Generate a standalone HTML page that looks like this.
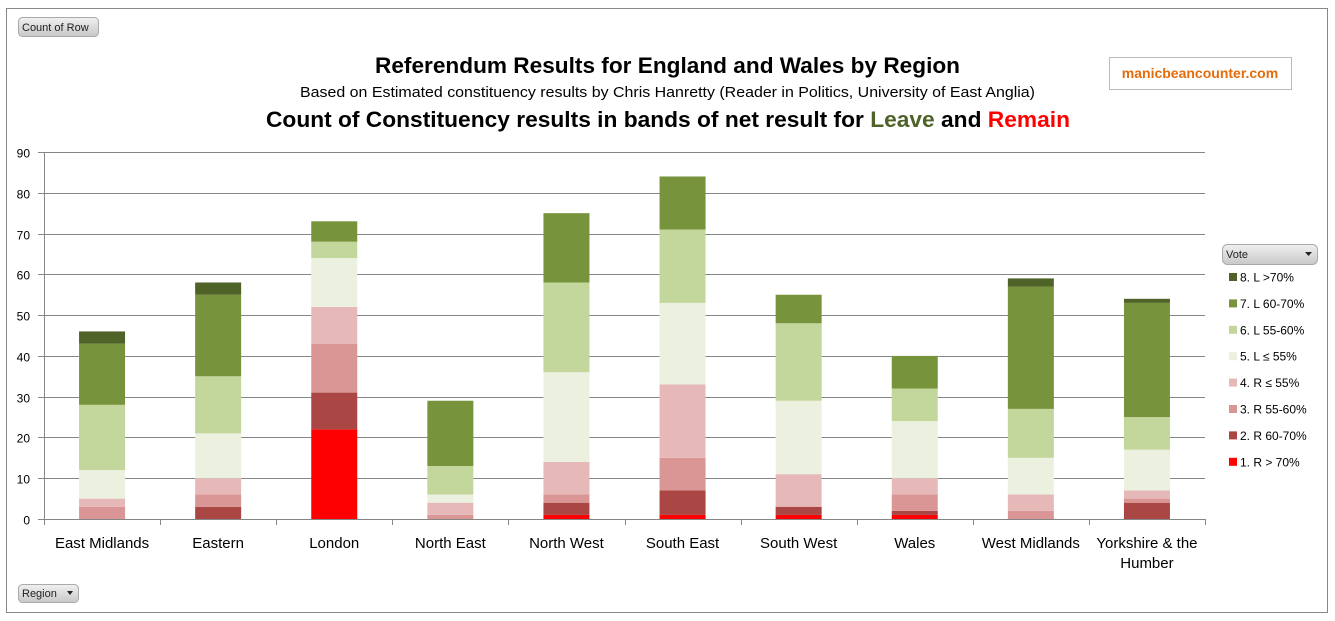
<!DOCTYPE html>
<html><head><meta charset="utf-8">
<style>
html,body{margin:0;padding:0;background:#fff;}
svg{display:block;font-family:"Liberation Sans",sans-serif;}
</style></head>
<body>
<svg id="s" width="1335" height="621" xmlns="http://www.w3.org/2000/svg">
<defs>
<linearGradient id="btn" x1="0" y1="0" x2="0" y2="1"><stop offset="0" stop-color="#f0f0f0"/><stop offset="1" stop-color="#c8c8c8"/></linearGradient>
</defs>
<rect x="6.5" y="8.5" width="1321" height="604" fill="#fff" stroke="#888" stroke-width="1"/>
<rect x="18.5" y="17.5" width="80" height="19" rx="4" fill="url(#btn)" stroke="#aaa"/>
<text x="22" y="31" font-size="11" fill="#222">Count of Row</text>
<rect x="18.5" y="584.5" width="60" height="18" rx="4" fill="url(#btn)" stroke="#aaa"/>
<text x="22" y="597" font-size="11" fill="#222">Region</text>
<path d="M67 591 l6 0 l-3 4z" fill="#222"/>
<text x="375" y="73" font-size="22" font-weight="bold" textLength="585" lengthAdjust="spacingAndGlyphs">Referendum Results for England and Wales by Region</text>
<text x="300" y="97" font-size="15" textLength="735" lengthAdjust="spacingAndGlyphs">Based on Estimated constituency results by Chris Hanretty (Reader in Politics, University of East Anglia)</text>
<text x="266" y="127" font-size="22" font-weight="bold" textLength="804" lengthAdjust="spacingAndGlyphs">Count of Constituency results in bands of net result for <tspan fill="#4f6228">Leave</tspan> and <tspan fill="#ff0000">Remain</tspan></text>
<rect x="1109.5" y="57.5" width="182" height="32" fill="#fff" stroke="#bbb"/>
<text x="1200" y="78" font-size="14" font-weight="bold" fill="#e46c0a" text-anchor="middle">manicbeancounter.com</text>
<g id="plot"></g>
<rect x="1222.5" y="244.5" width="95" height="20" rx="5" fill="url(#btn)" stroke="#aaa"/>
<text x="1226" y="258" font-size="11" fill="#222">Vote</text>
<path d="M1305 252 l7 0 l-3.5 4z" fill="#222"/>
<g id="leg" font-size="12"></g>
</svg>
<script>
var NS="http://www.w3.org/2000/svg";
function el(p,t,a,txt){var e=document.createElementNS(NS,t);for(var k in a)e.setAttribute(k,a[k]);if(txt!=null)e.textContent=txt;p.appendChild(e);return e;}
var g=document.getElementById('plot');
var y0=519,k=367/90,L=44,R=1205,cw=(R-L)/10;
for(var v=0;v<=90;v+=10){var y=Math.round(y0-v*k)+0.5;el(g,'line',{x1:L-6,x2:R,y1:y,y2:y,stroke:'#868686'});el(g,'text',{x:30,y:y+5,'font-size':12,'text-anchor':'end'},v);}
el(g,'line',{x1:L+0.5,x2:L+0.5,y1:152,y2:y0,stroke:'#868686'});
for(var i=0;i<=10;i++){var x=Math.round(L+cw*i)+0.5;el(g,'line',{x1:x,x2:x,y1:y0,y2:y0+6,stroke:'#868686'});}
var cols=['#ff0000','#aa4643','#d99694','#e6b9b8','#ebf1de','#c3d69b','#77933c','#4f6228'];
var data=[[0,0,3,5,12,28,43,46],[0,3,6,10,21,35,55,58],[22,31,43,52,64,68,73,73],[0,0,1,4,6,13,29,29],[1,4,6,14,36,58,75,75],[1,7,15,33,53,71,84,84],[1,3,3,11,29,48,55,55],[1,2,6,10,24,32,40,40],[0,0,2,6,15,27,57,59],[0,4,5,7,17,25,53,54]];
var names=['East Midlands','Eastern','London','North East','North West','South East','South West','Wales','West Midlands','Yorkshire & the'];
for(var i=0;i<10;i++){var c=L+cw*(i+0.5),prev=0;
 for(var j=0;j<8;j++){var v=data[i][j];if(v>prev){var yt=y0-v*k,yb=y0-prev*k;el(g,'rect',{x:c-23,y:yt,width:46,height:yb-yt,fill:cols[j]});}prev=v;}
 el(g,'text',{x:c,y:548,'font-size':15,'text-anchor':'middle'},names[i]);}
el(g,'text',{x:L+cw*9.5,y:568,'font-size':15,'text-anchor':'middle'},'Humber');
var lg=document.getElementById('leg');
var labs=['8. L >70%','7. L 60-70%','6. L 55-60%','5. L \u2264 55%','4. R \u2264 55%','3. R 55-60%','2. R 60-70%','1. R > 70%'];
for(var j=0;j<8;j++){var y=277+j*26.4;el(lg,'rect',{x:1229,y:y-4,width:8,height:8,fill:cols[7-j]});el(lg,'text',{x:1240,y:y+4.5},labs[j]);}
</script>
</body></html>
